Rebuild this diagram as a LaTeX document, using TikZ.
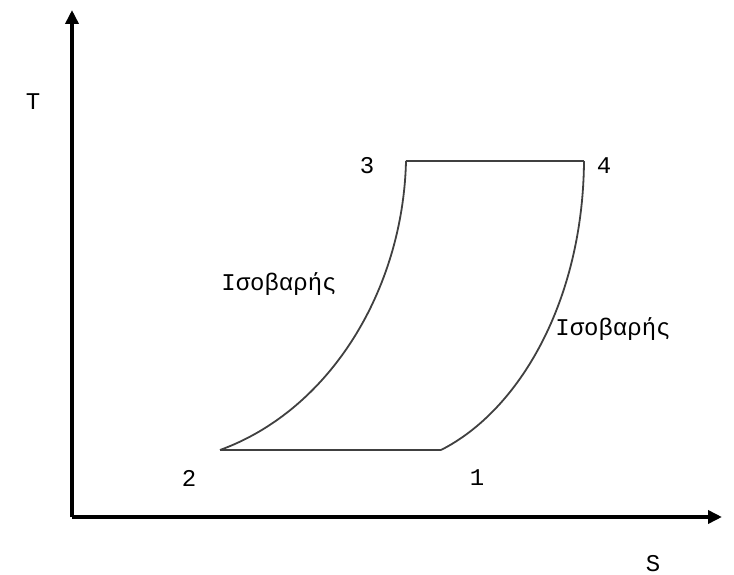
\documentclass[tikz,border=0pt]{standalone}
\usepackage{fontspec}
\setmainfont{Liberation Mono}
\usetikzlibrary{arrows.meta}
\begin{document}
\begin{tikzpicture}[x=1pt,y=-1pt,
  axis/.style={line width=3.5pt,-{Triangle[length=14pt,width=13pt]}},
  cyc/.style={line width=1.8pt,draw=black!75},
  lbl/.style={font=\fontsize{24}{26}\selectfont,inner sep=0pt}]
\useasboundingbox (0,0) rectangle (734,575);
\coordinate (o) at (72,517);
\coordinate (ty) at (72,10);
\coordinate (sx) at (722,517);
\draw[axis] (o) -- (ty);
\draw[axis] (o) -- (sx);
\coordinate (p1) at (441,450);
\coordinate (p2) at (220,450);
\coordinate (p3) at (406,161);
\coordinate (p4) at (584,161);
\draw[cyc] (p3) -- (p4);
\draw[cyc] (p2) -- (p1);
\draw[cyc] (p3) .. controls (403,290) and (330,410) .. (p2);
\draw[cyc] (p4) .. controls (583,300) and (520,410) .. (p1);
\node[lbl] (lT) at (33,102) {T};
\node[lbl] (lS) at (653,564) {S};
\node[lbl] (l3) at (367,166) {3};
\node[lbl] (l4) at (604,166) {4};
\node[lbl] (l2) at (189,478) {2};
\node[lbl] (l1) at (477,478) {1};
\node[lbl] (i1) at (279,284) {Ισοβαρής};
\node[lbl] (i2) at (613,329) {Ισοβαρής};
\end{tikzpicture}
\end{document}
